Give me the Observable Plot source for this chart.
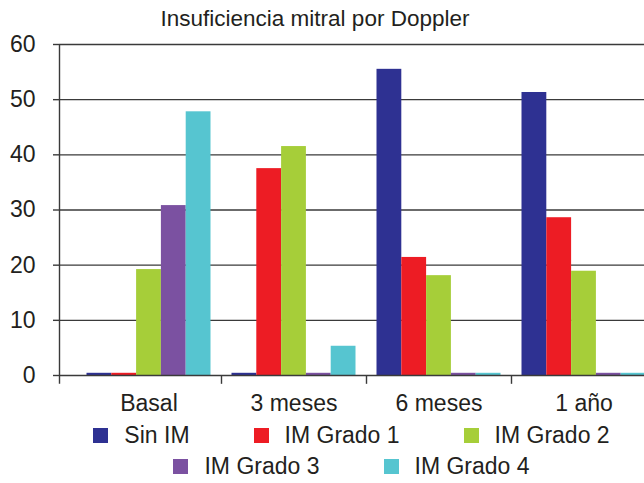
<!DOCTYPE html>
<html>
<head>
<meta charset="utf-8">
<script src="https://cdn.jsdelivr.net/npm/d3@7"></script>
<script src="https://cdn.jsdelivr.net/npm/@observablehq/plot@0.6"></script>
<style>
  html, body { margin: 0; padding: 0; background: #fff; }
  body { width: 644px; height: 483px; overflow: hidden; font-family: "Liberation Sans", Arial, Helvetica, sans-serif; color: #231f20; }
  #title { width: 630px; text-align: center; font-size: 22.5px; line-height: 26px; padding-top: 6px; height: 26px; }
  #legend { margin-left: 59px; width: 585px; display: flex; flex-wrap: wrap; justify-content: center; column-gap: 64px; font-size: 23px; line-height: 31px; }
  .item { display: flex; align-items: center; }
  .sw { width: 15px; height: 15px; margin-right: 16px; }
  svg { display: block; }
</style>
</head>
<body>
<div id="title">Insuficiencia mitral por Doppler</div>
<div id="chart"></div>
<div id="legend"></div>
<script>
const categories = ["Basal", "3 meses", "6 meses", "1 año"];
const series = ["Sin IM", "IM Grado 1", "IM Grado 2", "IM Grado 3", "IM Grado 4"];
const sinIM   = [0.4, 0.4, 55.5, 51.3];
const grado1  = [0.4, 37.5, 21.4, 28.6];
const grado2  = [19.2, 41.5, 18.1, 18.9];
const grado3  = [30.8, 0.4, 0.4, 0.4];
const grado4  = [47.8, 5.3, 0.4, 0.4];
const yTicks = [0, 10, 20, 30, 40, 50, 60];
const colors = ["#2e3192", "#ed1c24", "#a6ce39", "#7b51a1", "#56c5d0"];

const valuesBySeries = [sinIM, grado1, grado2, grado3, grado4];
const data = categories.flatMap((c, i) => series.map((s, j) => ({category: c, series: s, value: valuesBySeries[j][i]})));

const marginLeft = 59;
const xRange = [76, 656];
const step = (xRange[1] - xRange[0]) / categories.length;
const barW = 24.8;
const inset = (step - barW) / 2;
const tickDown = -1.6;

const chart = Plot.plot({
  width: 644,
  height: 388,
  marginTop: 12,
  marginBottom: 45,
  marginLeft,
  marginRight: 0,
  style: {fontFamily: "'Liberation Sans', Arial, Helvetica, sans-serif", color: "#231f20", background: "transparent", overflow: "visible"},
  x: {type: "band", domain: categories, range: xRange, padding: 0, label: null},
  y: {domain: [0, 60], label: null},
  color: {domain: series, range: colors},
  marks: [
    Plot.ruleY(yTicks.filter(t => t > 0), {stroke: "#3a3a3a", strokeWidth: 1.4}),
    ...series.map((s, j) => Plot.barY(data.filter(d => d.series === s), {
      x: "category", y: "value", fill: "series",
      dx: (j - 2) * barW, insetLeft: inset, insetRight: inset
    })),
    Plot.ruleY([0], {stroke: "#3a3a3a", strokeWidth: 1.4}),
    Plot.ruleX(categories.slice(1), {x: d => d, dx: -step / 2, y1: 0, y2: tickDown, stroke: "#3a3a3a", strokeWidth: 1.4}),
    Plot.ruleX(categories.slice(0, 1), {x: d => d, dx: marginLeft - xRange[0] - step / 2, y1: 60, y2: tickDown, stroke: "#3a3a3a", strokeWidth: 1.4}),
    Plot.axisY({ticks: yTicks, tickSize: 6, tickPadding: 18, fontSize: 23, stroke: "#3a3a3a", strokeWidth: 1.4, label: null}),
    Plot.axisX({tickSize: 0, tickPadding: 19, fontSize: 23, label: null})
  ]
});
document.getElementById("chart").append(chart);

const legend = document.getElementById("legend");
series.forEach((s, j) => {
  const item = document.createElement("div");
  item.className = "item";
  const sw = document.createElement("span");
  sw.className = "sw";
  sw.style.background = colors[j];
  const t = document.createElement("span");
  t.textContent = s;
  item.append(sw, t);
  legend.append(item);
});
</script>
</body>
</html>
